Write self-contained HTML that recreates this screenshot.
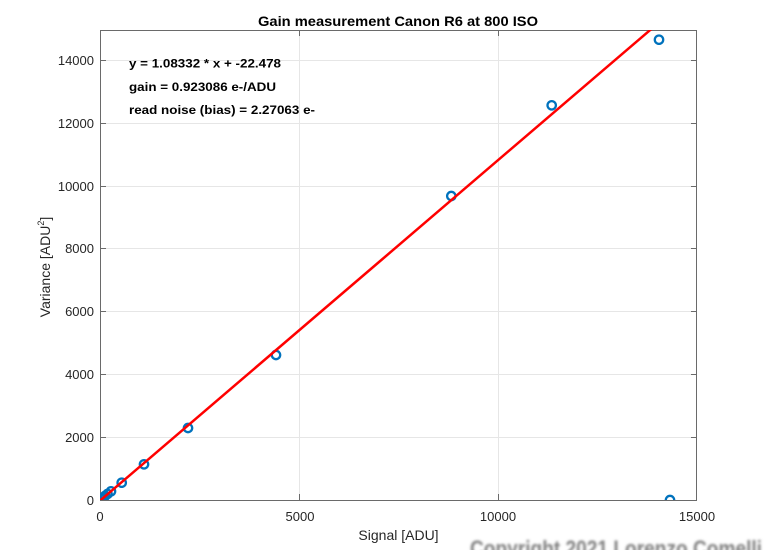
<!DOCTYPE html>
<html>
<head>
<meta charset="utf-8">
<style>
  html, body { margin: 0; padding: 0; background: #ffffff; }
  svg { display: block; }
  text { font-family: "Liberation Sans", Arial, Helvetica, sans-serif; }
</style>
</head>
<body>
<svg width="770" height="550" viewBox="0 0 770 550" xmlns="http://www.w3.org/2000/svg">
  <defs>
    <clipPath id="ax">
      <rect x="100" y="30" width="597" height="470"/>
    </clipPath>
    <filter id="blur" x="-5%" y="-50%" width="110%" height="200%">
      <feGaussianBlur stdDeviation="1.2"/>
    </filter>
  </defs>

  <rect x="0" y="0" width="770" height="550" fill="#ffffff"/>

  <!-- grid -->
  <g stroke="#e6e6e6" stroke-width="1">
    <line x1="299.5" y1="30" x2="299.5" y2="500"/>
    <line x1="498.5" y1="30" x2="498.5" y2="500"/>
    <line x1="100" y1="437.5" x2="697" y2="437.5"/>
    <line x1="100" y1="374.5" x2="697" y2="374.5"/>
    <line x1="100" y1="311.5" x2="697" y2="311.5"/>
    <line x1="100" y1="248.5" x2="697" y2="248.5"/>
    <line x1="100" y1="186.5" x2="697" y2="186.5"/>
    <line x1="100" y1="123.5" x2="697" y2="123.5"/>
    <line x1="100" y1="60.5" x2="697" y2="60.5"/>
  </g>

  <!-- box -->
  <rect x="100.5" y="30.5" width="596" height="470" fill="none" stroke="#6a6a6a" stroke-width="1"/>

  <!-- ticks -->
  <g stroke="#6a6a6a" stroke-width="1">
    <line x1="299.5" y1="500" x2="299.5" y2="494"/>
    <line x1="498.5" y1="500" x2="498.5" y2="494"/>
    <line x1="299.5" y1="30" x2="299.5" y2="36"/>
    <line x1="498.5" y1="30" x2="498.5" y2="36"/>
    <line x1="100" y1="437.5" x2="106" y2="437.5"/>
    <line x1="100" y1="374.5" x2="106" y2="374.5"/>
    <line x1="100" y1="311.5" x2="106" y2="311.5"/>
    <line x1="100" y1="248.5" x2="106" y2="248.5"/>
    <line x1="100" y1="186.5" x2="106" y2="186.5"/>
    <line x1="100" y1="123.5" x2="106" y2="123.5"/>
    <line x1="100" y1="60.5" x2="106" y2="60.5"/>
    <line x1="697" y1="437.5" x2="691" y2="437.5"/>
    <line x1="697" y1="374.5" x2="691" y2="374.5"/>
    <line x1="697" y1="311.5" x2="691" y2="311.5"/>
    <line x1="697" y1="248.5" x2="691" y2="248.5"/>
    <line x1="697" y1="186.5" x2="691" y2="186.5"/>
    <line x1="697" y1="123.5" x2="691" y2="123.5"/>
    <line x1="697" y1="60.5" x2="691" y2="60.5"/>
  </g>

  <!-- y tick labels -->
  <g font-size="13" fill="#262626" text-anchor="end">
    <text x="94" y="505">0</text>
    <text x="94" y="442">2000</text>
    <text x="94" y="379">4000</text>
    <text x="94" y="316">6000</text>
    <text x="94" y="253">8000</text>
    <text x="94" y="191">10000</text>
    <text x="94" y="128">12000</text>
    <text x="94" y="65">14000</text>
  </g>

  <!-- x tick labels -->
  <g font-size="13" fill="#262626" text-anchor="middle">
    <text x="100" y="521">0</text>
    <text x="300" y="521">5000</text>
    <text x="498" y="521">10000</text>
    <text x="697" y="521">15000</text>
  </g>

  <!-- axis labels -->
  <text x="398.5" y="540" font-size="14" fill="#262626" text-anchor="middle">Signal [ADU]</text>
  <text transform="translate(50,267) rotate(-90)" font-size="14" fill="#262626" text-anchor="middle">Variance [ADU<tspan font-size="9" dy="-6">2</tspan><tspan dy="6">]</tspan></text>

  <!-- title -->
  <text x="398" y="26" font-size="14" font-weight="bold" fill="#000000" text-anchor="middle" textLength="280" lengthAdjust="spacingAndGlyphs">Gain measurement Canon R6 at 800 ISO</text>

  <!-- annotations -->
  <g font-size="12" font-weight="bold" fill="#000000">
    <text x="129" y="67.5" textLength="152" lengthAdjust="spacingAndGlyphs">y = 1.08332 * x + -22.478</text>
    <text x="129" y="91" textLength="147" lengthAdjust="spacingAndGlyphs">gain = 0.923086 e-/ADU</text>
    <text x="129" y="114" textLength="186" lengthAdjust="spacingAndGlyphs">read noise (bias) = 2.27063 e-</text>
  </g>

  <!-- data points -->
  <g fill="none" stroke="#0072BD" stroke-width="2.3" clip-path="url(#ax)">
    <circle cx="101" cy="499.5" r="4.2"/>
    <circle cx="102" cy="498.5" r="4.2"/>
    <circle cx="103.5" cy="497.5" r="4.2"/>
    <circle cx="105" cy="496" r="4.2"/>
    <circle cx="107.5" cy="494" r="4.2"/>
    <circle cx="111" cy="491.3" r="4.2"/>
    <circle cx="121.7" cy="482.7" r="4.2"/>
    <circle cx="144" cy="464.3" r="4.2"/>
    <circle cx="188" cy="428" r="4.2"/>
    <circle cx="276" cy="355" r="4.2"/>
    <circle cx="451.3" cy="196" r="4.2"/>
    <circle cx="551.7" cy="105.3" r="4.2"/>
    <circle cx="659" cy="39.7" r="4.2"/>
    <circle cx="670" cy="500" r="4.2"/>
  </g>

  <!-- fit line -->
  <g clip-path="url(#ax)">
    <line x1="100" y1="500.7" x2="660" y2="21.6" stroke="#ff0000" stroke-width="2.5"/>
  </g>

  <!-- copyright watermark -->
  <text x="470" y="556" font-size="22" font-weight="bold" fill="#808080" textLength="292" lengthAdjust="spacingAndGlyphs" filter="url(#blur)">Copyright 2021 Lorenzo Comelli</text>
</svg>
</body>
</html>
